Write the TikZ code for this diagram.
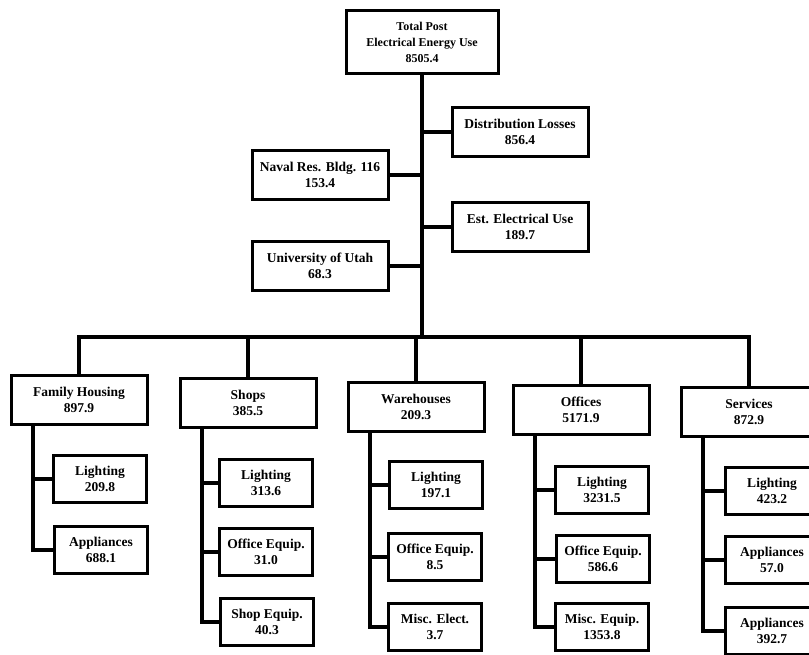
\documentclass[tikz,border=0pt]{standalone}
\usepackage{fontspec}
\setmainfont{Liberation Serif}
\begin{document}
\begin{tikzpicture}[x=1pt,y=-1pt,
  box/.style={draw, line width=3pt, fill=white, align=center, inner sep=0pt,
    font=\fontsize{13.5}{15.5}\selectfont\bfseries},
  topbox/.style={box, font=\fontsize{12}{16}\selectfont\bfseries},
  mid/.style={box, minimum width=136pt, minimum height=49pt},
  cat/.style={box, minimum width=136pt, minimum height=49pt},
  leaf/.style={box, minimum width=93pt, minimum height=47pt},
  conn/.style={line width=3.2pt, line cap=rect}]
\useasboundingbox (0,0) rectangle (809,654);
\clip (0,0) rectangle (809,654);

% top level
\node[topbox, minimum width=152pt, minimum height=63pt] (top) at (422,42)
  {Total Post\\Electrical Energy Use\\8505.4};
\node[mid] (dist)  at (520,132) {Distribution Losses\\856.4};
\node[mid] (naval) at (320,175) {Naval Res. Bldg. 116\\153.4};
\node[mid] (est)   at (520,227) {Est. Electrical Use\\189.7};
\node[mid] (univ)  at (320,266) {University of Utah\\68.3};
\coordinate (bar) at (422,337);

% categories
\node[cat] (fam)   at (79,400)  {Family Housing\\897.9};
\node[cat] (shops) at (248,403) {Shops\\385.5};
\node[cat] (ware)  at (416,407) {Warehouses\\209.3};
\node[cat] (off)   at (581,410) {Offices\\5171.9};
\node[cat] (serv)  at (749,412) {Services\\872.9};

% leaves
\node[leaf] (famA)   at (100,479)   {Lighting\\209.8};
\node[leaf] (famB)   at (101,550)   {Appliances\\688.1};
\node[leaf] (shopsA) at (266,483)   {Lighting\\313.6};
\node[leaf] (shopsB) at (266,552)   {Office Equip.\\31.0};
\node[leaf] (shopsC) at (267,622)   {Shop Equip.\\40.3};
\node[leaf] (wareA)  at (436,485)   {Lighting\\197.1};
\node[leaf] (wareB)  at (435,557)   {Office Equip.\\8.5};
\node[leaf] (wareC)  at (435,627)   {Misc. Elect.\\3.7};
\node[leaf] (offA)   at (602,490)   {Lighting\\3231.5};
\node[leaf] (offB)   at (603,559)   {Office Equip.\\586.6};
\node[leaf] (offC)   at (602,627)   {Misc. Equip.\\1353.8};
\node[leaf] (servA)  at (772,491)   {Lighting\\423.2};
\node[leaf] (servB)  at (772,560)   {Appliances\\57.0};
\node[leaf] (servC)  at (772,631)   {Appliances\\392.7};

% stem x positions
\coordinate (famS)   at (33,0);
\coordinate (shopsS) at (202,0);
\coordinate (wareS)  at (370,0);
\coordinate (offS)   at (535,0);
\coordinate (servS)  at (703,0);

% trunk and side branches
\draw[conn] (top.south) -- (bar);
\draw[conn] (dist.west)  -- (dist.west -| top.south);
\draw[conn] (naval.east) -- (naval.east -| top.south);
\draw[conn] (est.west)   -- (est.west -| top.south);
\draw[conn] (univ.east)  -- (univ.east -| top.south);

% horizontal bar and drops
\draw[conn] (fam.north |- bar) -- (serv.north |- bar);
\foreach \n in {fam,shops,ware,off,serv}
  \draw[conn] (\n.north) -- (\n.north |- bar);

% stems
\draw[conn] (fam.south -| famS) |- (famB.west);
\draw[conn] (famA.west) -- (famA.west -| famS);
\draw[conn] (shops.south -| shopsS) |- (shopsC.west);
\draw[conn] (shopsA.west) -- (shopsA.west -| shopsS);
\draw[conn] (shopsB.west) -- (shopsB.west -| shopsS);
\draw[conn] (ware.south -| wareS) |- (wareC.west);
\draw[conn] (wareA.west) -- (wareA.west -| wareS);
\draw[conn] (wareB.west) -- (wareB.west -| wareS);
\draw[conn] (off.south -| offS) |- (offC.west);
\draw[conn] (offA.west) -- (offA.west -| offS);
\draw[conn] (offB.west) -- (offB.west -| offS);
\draw[conn] (serv.south -| servS) |- (servC.west);
\draw[conn] (servA.west) -- (servA.west -| servS);
\draw[conn] (servB.west) -- (servB.west -| servS);
\end{tikzpicture}
\end{document}
